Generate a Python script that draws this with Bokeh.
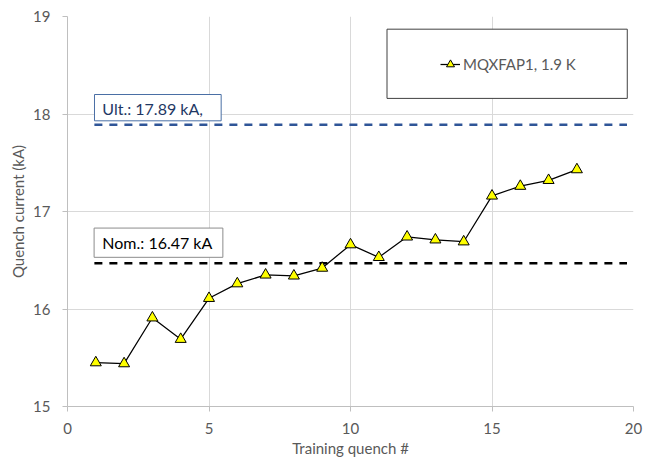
from bokeh.plotting import figure
from bokeh.models import BoxAnnotation, Label, Legend, LegendItem, ColumnDataSource
from bokeh.embed import file_html
from bokeh.resources import INLINE

quench = list(range(1, 19))
current = [15.45, 15.44, 15.91, 15.69, 16.11, 16.26, 16.35, 16.34, 16.42,
           16.66, 16.53, 16.74, 16.71, 16.69, 17.16, 17.26, 17.32, 17.43]
series_name = "MQXFAP1, 1.9 K"
ult_value = 17.89
nom_value = 16.47
ref_x = [0.95, 19.77]
x_ticks = [0, 5, 10, 15, 20]
y_ticks = [15, 16, 17, 18, 19]

FONT = "Lato"
GRAY = "#595959"

p = figure(width=664, height=462, output_backend="svg", toolbar_location=None,
           x_range=(0, 20), y_range=(15, 19),
           min_border_left=67, min_border_right=31, min_border_top=16, min_border_bottom=56)
p.outline_line_color = None
p.background_fill_color = "white"
p.border_fill_color = "white"

for ax in (p.xaxis[0], p.yaxis[0]):
    ax.axis_line_color = "#bfbfbf"
    ax.major_tick_line_color = "#bfbfbf"
    ax.major_tick_out = 5
    ax.major_tick_in = 0
    ax.minor_tick_line_color = None
    ax.major_label_text_font = FONT
    ax.major_label_text_font_size = "15px"
    ax.major_label_text_color = GRAY
    ax.axis_label_text_font = FONT
    ax.axis_label_text_font_size = "15px"
    ax.axis_label_text_color = GRAY
    ax.axis_label_text_font_style = "normal"

p.xaxis.ticker = x_ticks
p.yaxis.ticker = y_ticks
p.xaxis.axis_label = "Training quench #"
p.yaxis.axis_label = "Quench current (kA)"
p.xaxis.major_label_standoff = 11
p.xaxis.axis_label_standoff = 2
p.yaxis.major_label_standoff = 12
p.yaxis.axis_label_standoff = 3
p.xgrid.grid_line_color = "#d9d9d9"
p.ygrid.grid_line_color = "#d9d9d9"

# reference lines
p.line(ref_x, [ult_value] * 2, line_color="#2F5597", line_width=2.5, line_dash="8 7")
p.line(ref_x, [nom_value] * 2, line_color="black", line_width=2.5, line_dash="8 7")

src = ColumnDataSource(dict(x=quench, y=current))
ln = p.line("x", "y", source=src, line_color="black", line_width=1.25)
sc = p.scatter("x", "y", source=src, marker="triangle", size=11,
               fill_color="#FFFF00", line_color="black", line_width=1)

# annotation boxes
p.add_layout(BoxAnnotation(left=0.954, right=5.43, bottom=17.93, top=18.2,
                           fill_color="white", fill_alpha=1, line_color="#4a6fa5",
                           line_alpha=1, line_width=1))
p.add_layout(Label(x=1.23, y=18.056, text="Ult.: %.2f kA," % ult_value, text_font=FONT,
                   text_font_size="16px", text_color="#1F3864", text_baseline="middle"))
p.add_layout(BoxAnnotation(left=0.94, right=5.49, bottom=16.53, top=16.83,
                           fill_color="white", fill_alpha=1, line_color="#8c8c8c",
                           line_alpha=1, line_width=1))
p.add_layout(Label(x=1.23, y=16.677, text="Nom.: %.2f kA" % nom_value, text_font=FONT,
                   text_font_size="16px", text_color="black", text_baseline="middle"))

# legend box
p.add_layout(BoxAnnotation(left=11.29, right=19.78, bottom=18.16, top=18.87,
                           fill_color="white", fill_alpha=1, line_color="#404040",
                           line_alpha=1, line_width=1))
legend = Legend(items=[LegendItem(label=series_name, renderers=[ln, sc])],
                location=(373, 331), padding=0, margin=0, spacing=0,
                glyph_width=20, glyph_height=22, label_standoff=3,
                border_line_color=None, background_fill_alpha=0,
                label_text_font=FONT, label_text_font_size="15px",
                label_text_color=GRAY)
p.add_layout(legend)

open("out.html", "w").write(file_html(p, INLINE))
